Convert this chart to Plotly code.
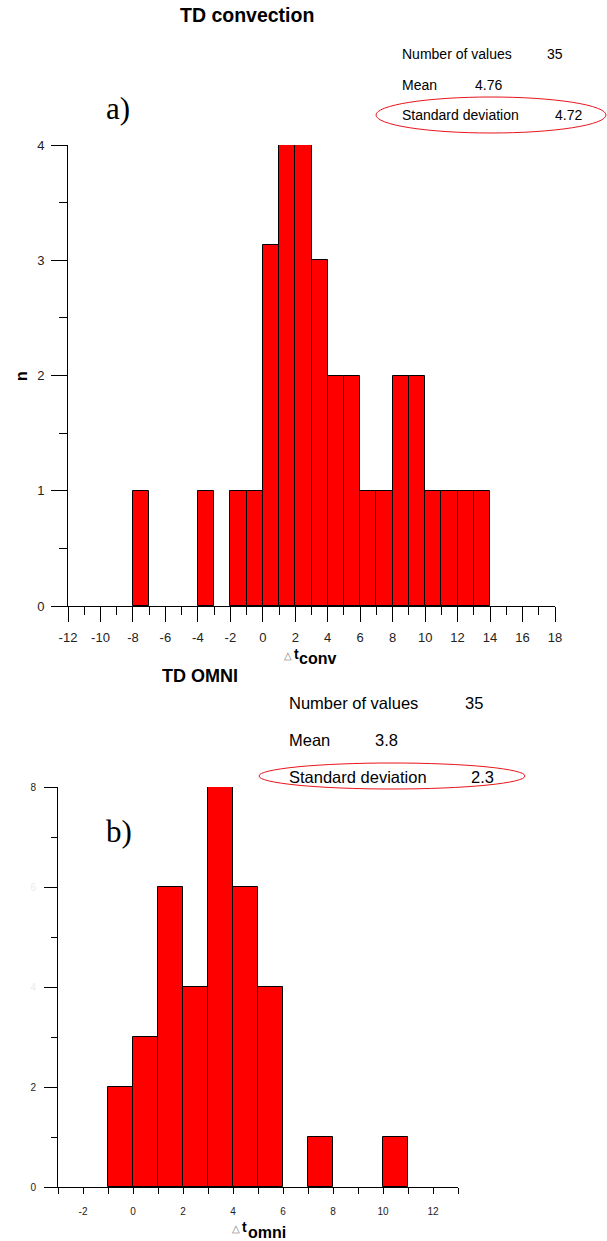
import plotly.graph_objects as go

W, H = 607, 1241

# ---- data ----
conv_bin_left = [-8, -7, -6, -5, -4, -3, -2, -1, 0, 1, 2, 3, 4, 5, 6, 7, 8, 9, 10, 11, 12, 13]
conv_counts = [1, 0, 0, 0, 1, 0, 1, 1, 3.13, 4, 4, 3, 2, 2, 1, 1, 2, 2, 1, 1, 1, 1]
omni_bin_left = [-1, 0, 1, 2, 3, 4, 5, 6, 7, 8, 9, 10]
omni_counts = [2, 3, 6, 4, 8, 6, 4, 0, 1, 0, 0, 1]

conv_stats = [("Number of values", "35"), ("Mean", "4.76"), ("Standard deviation", "4.72")]
omni_stats = [("Number of values", "35"), ("Mean", "3.8"), ("Standard deviation", "2.3")]

conv_xticks = list(range(-12, 19, 2))
omni_xticks = list(range(-2, 13, 2))

SANS = "Liberation Sans, Arial, sans-serif"
SERIF = "Liberation Serif, Times New Roman, serif"


def px(x):
    return x / W


def py(y):
    return 1 - y / H


fig = go.Figure()

bar_style = dict(color="#ff0000", line=dict(color="#000000", width=1))

fig.add_trace(go.Bar(
    x=[l + 0.5 for l, c in zip(conv_bin_left, conv_counts) if c > 0],
    y=[c for c in conv_counts if c > 0],
    width=1, marker=bar_style, xaxis="x", yaxis="y", hoverinfo="skip"))

fig.add_trace(go.Bar(
    x=[l + 0.5 for l, c in zip(omni_bin_left, omni_counts) if c > 0],
    y=[c for c in omni_counts if c > 0],
    width=1, marker=bar_style, xaxis="x2", yaxis="y2", hoverinfo="skip"))

ann = []


def text(x, y, s, size, bold=False, family=SANS, color="#000000", xanchor="left", angle=0):
    ann.append(dict(
        x=px(x), y=py(y), xref="paper", yref="paper", text=(f"<b>{s}</b>" if bold else s),
        showarrow=False, xanchor=xanchor, yanchor="middle", textangle=angle,
        font=dict(size=size, family=family, color=color)))


# Panel a texts
text(247, 15, "TD convection", 19.5, bold=True, xanchor="center")
rows_a = [54, 85, 115]
val_x_a = [545, 473, 553]
for (lab, val), yy, vx in zip(conv_stats, rows_a, val_x_a):
    text(400, yy, lab, 14)
    text(vx, yy, val, 14)
text(104, 108, "a)", 31, family=SERIF)
text(21, 376, "n", 16, bold=True, xanchor="center", angle=-90)
text(282, 655, "△", 10, color="#777777")
text(292, 654, "t", 14, bold=True)
text(297, 658, "conv", 16, bold=True)

# Panel b texts
text(200, 676, "TD OMNI", 18, bold=True, xanchor="center")
rows_b = [703, 740, 777]
val_x_b = [463, 373, 469]
for (lab, val), yy, vx in zip(omni_stats, rows_b, val_x_b):
    text(287, yy, lab, 16.5)
    text(vx, yy, val, 16.5)
text(104, 831, "b)", 31, family=SERIF)
text(230, 1228, "△", 10, color="#777777")
text(240, 1227, "t", 14, bold=True)
text(246, 1232, "omni", 16, bold=True)

shapes = [
    dict(type="circle", xref="paper", yref="paper",
         x0=px(376), x1=px(606), y0=py(133), y1=py(97),
         line=dict(color="#e8141c", width=1)),
    dict(type="circle", xref="paper", yref="paper",
         x0=px(259), x1=px(525), y0=py(789), y1=py(763),
         line=dict(color="#e8141c", width=1)),
]

omni_ytext = []
for v in [0, 2, 4, 6, 8]:
    if v in (4, 6):
        omni_ytext.append(f"<span style='color:#ececec'>{v}</span>")
    else:
        omni_ytext.append(str(v))

axis_common = dict(showgrid=False, zeroline=False, showline=True, linecolor="#000000",
                   linewidth=1, ticks="outside", tickcolor="#000000", tickwidth=1,
                   automargin=False)

fig.update_layout(
    width=W, height=H, margin=dict(l=0, r=0, t=0, b=0, autoexpand=False),
    paper_bgcolor="white", plot_bgcolor="rgba(0,0,0,0)",
    showlegend=False, bargap=0,
    annotations=ann, shapes=shapes,
    xaxis=dict(**axis_common, domain=[px(68), px(555)], range=[-12, 18], anchor="y",
               tickvals=conv_xticks, ticktext=[str(v) for v in conv_xticks], ticklen=15,
               ticklabelstandoff=4,
               tickfont=dict(size=13, family=SANS, color="#222222"),
               minor=dict(tickvals=list(range(-11, 18, 2)), ticklen=8, ticks="outside",
                          tickcolor="#000000", showgrid=False)),
    yaxis=dict(**axis_common, domain=[py(606), py(145)], range=[0, 4], anchor="x",
               tickvals=[0, 1, 2, 3, 4], ticklen=16, ticklabelstandoff=4,
               tickfont=dict(size=13, family=SANS, color="#222222"),
               minor=dict(tickvals=[0.5, 1.5, 2.5, 3.5], ticklen=8, ticks="outside",
                          tickcolor="#000000", showgrid=False)),
    xaxis2=dict(**axis_common, domain=[px(58), px(458)], range=[-3, 13], anchor="y2",
                tickvals=omni_xticks, ticktext=[str(v) for v in omni_xticks], ticklen=6,
                ticklabelstandoff=9,
                tickfont=dict(size=10, family=SANS, color="#222222"),
                minor=dict(tickvals=list(range(-3, 14, 2)), ticklen=6, ticks="outside",
                           tickcolor="#000000", showgrid=False)),
    yaxis2=dict(**axis_common, domain=[py(1187), py(787)], range=[0, 8], anchor="x2",
                tickvals=[0, 2, 4, 6, 8], ticktext=omni_ytext, ticklen=13,
                ticklabelstandoff=6,
                tickfont=dict(size=10, family=SANS, color="#222222"),
                minor=dict(tickvals=[1, 3, 5, 7], ticklen=6, ticks="outside",
                           tickcolor="#000000", showgrid=False)),
)

fig.write_html("out.html")
